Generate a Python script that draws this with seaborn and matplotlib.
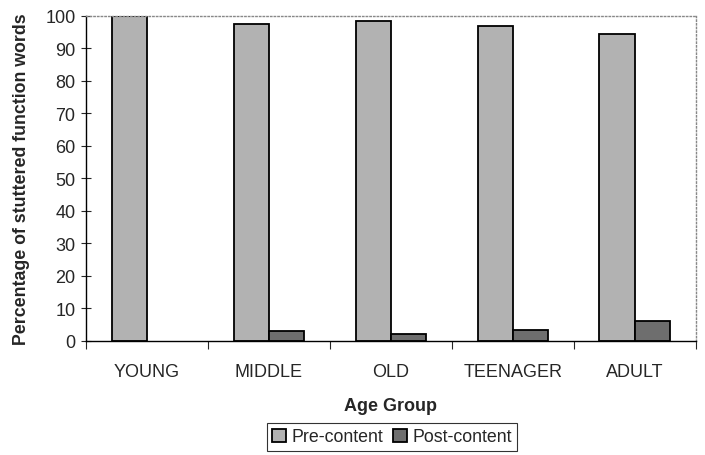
import matplotlib
matplotlib.use("Agg")
import matplotlib.pyplot as plt
import pandas as pd
import seaborn as sns

# values (no post-content bar drawn for YOUNG)
age_groups = ["YOUNG", "MIDDLE", "OLD", "TEENAGER", "ADULT"]
pre_content = [100.0, 97.5, 98.3, 97.0, 94.5]
post_content = [None, 3.0, 2.2, 3.5, 6.0]
series_names = ["Pre-content", "Post-content"]
series_colors = ["#b2b2b2", "#6e6e6e"]

df = pd.DataFrame({
    "group": age_groups * 2,
    "series": [series_names[0]] * len(age_groups) + [series_names[1]] * len(age_groups),
    "value": pd.to_numeric(pd.Series(pre_content + post_content), errors="coerce"),
})

sns.set_style("white")
plt.rcParams["font.family"] = ["Liberation Sans", "DejaVu Sans"]

fig = plt.figure(figsize=(7.05, 4.56), dpi=100)
ax = fig.add_axes([0.122, 0.25, 0.865, 0.713])

sns.barplot(data=df, x="group", y="value", hue="series", order=age_groups,
            hue_order=series_names, palette=series_colors, width=0.58,
            edgecolor="black", linewidth=1.3, saturation=1, ax=ax, legend=True)

ax.set_ylim(0, 100)
ax.set_xlim(-0.5, len(age_groups) - 0.5)
ax.set_yticks(range(0, 101, 10))
ax.tick_params(axis="y", labelsize=13, direction="inout", length=7, width=0.8,
               left=True, pad=4)
ax.tick_params(axis="x", which="major", labelsize=13, length=0, pad=16)
ax.set_xticks([i - 0.5 for i in range(len(age_groups) + 1)], minor=True)
ax.tick_params(axis="x", which="minor", direction="out", length=6, width=0.8, bottom=True)

ax.set_xlabel("Age Group", fontsize=13, fontweight="bold", labelpad=12)
ax.set_ylabel("Percentage of stuttered function words", fontsize=12.8,
              fontweight="bold", labelpad=11)

for side in ["left", "bottom"]:
    ax.spines[side].set_color("black")
    ax.spines[side].set_linewidth(1.0)
for side in ["top", "right"]:
    ax.spines[side].set_color("#888888")
    ax.spines[side].set_linestyle(":")
    ax.spines[side].set_linewidth(1.0)

handles, labels = ax.get_legend_handles_labels()
ax.get_legend().remove()
leg = fig.legend(handles, labels, loc="center", bbox_to_anchor=(0.556, 0.04),
                 ncol=2, fontsize=12.8, frameon=True, fancybox=False,
                 edgecolor="black", handlelength=0.75, handleheight=0.75,
                 handletextpad=0.3, columnspacing=0.6, borderpad=0.3)
leg.get_frame().set_linewidth(0.8)

fig.savefig("out.png", dpi=100)
